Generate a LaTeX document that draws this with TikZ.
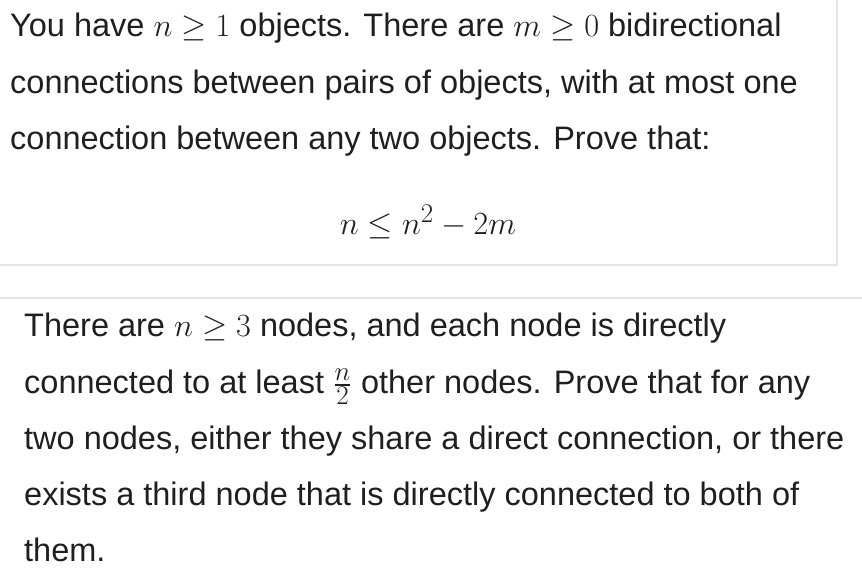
\documentclass[tikz,border=0pt]{standalone}
\usepackage{amsmath}
\usepackage[no-math]{fontspec}
\setmainfont{Liberation Sans}
\newcommand{\M}[1]{\scalebox{1.3}{$#1$}}
\begin{document}
\begin{tikzpicture}[x=1pt,y=-1pt,
  txt/.style={anchor=base west,inner sep=0pt,font=\fontsize{32.5}{38}\selectfont,text=black!88},
  frame/.style={draw=black!10,line width=1.2pt}]
\useasboundingbox (0,0) rectangle (862,582);
\draw[frame] (-2,-2) coordinate (tl) -- (837,-2) -- (837,265) coordinate (br) -- (-2,265);
\draw[frame] (-2,298) coordinate (b1) -- (864,298) coordinate (b2);
\node[txt] (l1) at (10,36) {You have \M{n\geq 1} objects. There are \M{m\geq 0} bidirectional};
\node[txt] (l2) at (10,93) {connections between pairs of objects, with at most one};
\node[txt] (l3) at (10,149) {connection between any two objects. Prove that:};
\node[txt,anchor=base] (eq) at (428,234) {\M{n\leq n^2-2m}};
\node[txt] (m1) at (24,336) {There are \M{n\geq 3} nodes, and each node is directly};
\node[txt] (m2) at (24,393) {connected to at least \M{\frac{n}{2}} other nodes. Prove that for any};
\node[txt] (m3) at (24,449) {two nodes, either they share a direct connection, or there};
\node[txt] (m4) at (24,505) {exists a third node that is directly connected to both of};
\node[txt] (m5) at (24,561) {them.};
\end{tikzpicture}
\end{document}
